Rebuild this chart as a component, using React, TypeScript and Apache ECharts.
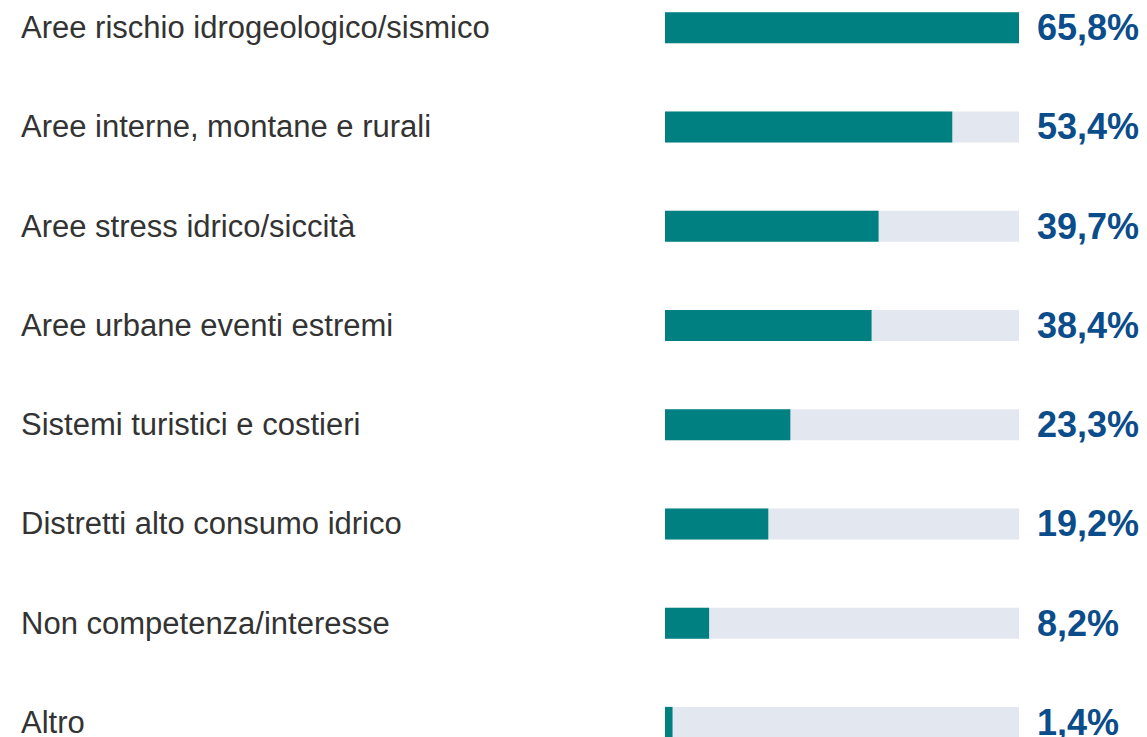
import React, { useEffect, useRef } from "react";
import * as echarts from "echarts";

const categories = [
  "Aree rischio idrogeologico/sismico",
  "Aree interne, montane e rurali",
  "Aree stress idrico/siccità",
  "Aree urbane eventi estremi",
  "Sistemi turistici e costieri",
  "Distretti alto consumo idrico",
  "Non competenza/interesse",
  "Altro",
];
const values = [65.8, 53.4, 39.7, 38.4, 23.3, 19.2, 8.2, 1.4];
const maxValue = 65.8;

export default function App() {
  const ref = useRef<HTMLDivElement>(null);
  useEffect(() => {
    document.body.style.margin = "0";
    document.body.style.overflow = "hidden";
    const chart = echarts.init(ref.current!, null, { renderer: "svg" });
    const font = "'Liberation Sans', Arial, sans-serif";
    chart.setOption({
      animation: false,
      grid: { left: 665, right: 128, top: 0, bottom: 0, containLabel: false },
      xAxis: {
        type: "value",
        min: 0,
        max: maxValue,
        show: false,
      },
      yAxis: {
        type: "category",
        inverse: true,
        data: categories,
        axisLine: { show: false },
        axisTick: { show: false },
        splitLine: { show: false },
        axisLabel: {
          align: "left",
          margin: 644,
          color: "#333333",
          fontSize: 31,
          fontFamily: font,
        },
      },
      series: [
        {
          type: "bar",
          data: values.map(() => maxValue),
          barWidth: 31,
          barGap: "-100%",
          itemStyle: { color: "#e3e7ef" },
          silent: true,
          label: {
            show: true,
            position: "right",
            distance: 18,
            formatter: (p: any) => values[p.dataIndex].toFixed(1).replace(".", ",") + "%",
            color: "#0b4d8b",
            fontSize: 36,
            fontWeight: "bold",
            fontFamily: font,
          },
          z: 1,
        },
        {
          type: "bar",
          data: values,
          barWidth: 31,
          barGap: "-100%",
          itemStyle: { color: "#008080" },
          z: 2,
        },
      ],
    });
    return () => chart.dispose();
  }, []);
  return (
    <div
      ref={ref}
      style={{ position: "absolute", left: 0, top: -22, width: 1147, height: 794, background: "#fff" }}
    />
  );
}
